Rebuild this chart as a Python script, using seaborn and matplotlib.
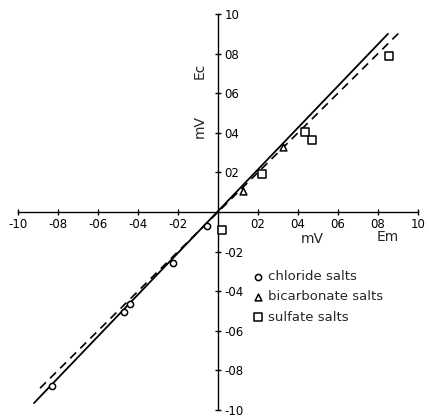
import matplotlib
matplotlib.use("Agg")
import matplotlib.pyplot as plt
import seaborn as sns
import pandas as pd

# Data (Em, Ec in mV)
chloride_em = [-0.83, -0.47, -0.44, -0.227, -0.057]
chloride_ec = [-0.877, -0.505, -0.463, -0.26, -0.073]
bicarb_em = [0.127, 0.327]
bicarb_ec = [0.107, 0.33]
sulfate_em = [0.022, 0.218, 0.435, 0.47, 0.857]
sulfate_ec = [-0.09, 0.19, 0.405, 0.363, 0.79]

fit_x = [-0.92, 0.85]
fit_y = [-0.965, 0.90]
ideal_x = [-0.89, 0.91]
ideal_y = [-0.89, 0.91]

tick_vals = [-1.0, -0.8, -0.6, -0.4, -0.2, 0.2, 0.4, 0.6, 0.8, 1.0]
tick_labels = ["-10", "-08", "-06", "-04", "-02", "02", "04", "06", "08", "10"]

sns.set_style("white")
plt.rcParams['font.family'] = ['DejaVu Sans']

fig = plt.figure(figsize=(4.29, 4.17), dpi=100)
ax = fig.add_axes([18/429, 7/417, 400/429, 396/417])

sns.lineplot(x=fit_x, y=fit_y, ax=ax, color="black", lw=1.3, linestyle="-")
sns.lineplot(x=ideal_x, y=ideal_y, ax=ax, color="black", lw=1.2, linestyle=(0, (5, 3.5)))

df = pd.concat([
    pd.DataFrame({"Em": chloride_em, "Ec": chloride_ec, "salt": "chloride salts"}),
    pd.DataFrame({"Em": bicarb_em, "Ec": bicarb_ec, "salt": "bicarbonate salts"}),
    pd.DataFrame({"Em": sulfate_em, "Ec": sulfate_ec, "salt": "sulfate salts"}),
])
markers = {"chloride salts": "o", "bicarbonate salts": "^", "sulfate salts": "s"}
sizes = {"chloride salts": 20, "bicarbonate salts": 24, "sulfate salts": 28}
for name, grp in df.groupby("salt", sort=False):
    sns.scatterplot(data=grp, x="Em", y="Ec", ax=ax, marker=markers[name],
                    s=sizes[name], facecolor="white", edgecolor="black",
                    linewidth=1.1, label=name, zorder=5)

ax.set_xlim(-1.0, 1.0)
ax.set_ylim(-1.0, 1.0)
ax.spines["top"].set_visible(False)
ax.spines["left"].set_visible(False)
ax.spines["bottom"].set_position(("data", 0))
ax.spines["right"].set_position(("data", 0))
for s in ("bottom", "right"):
    ax.spines[s].set_color("black")
    ax.spines[s].set_linewidth(1.0)
ax.yaxis.set_ticks_position("right")
ax.xaxis.set_ticks_position("bottom")
ax.set_xticks(tick_vals)
ax.set_xticklabels(tick_labels)
ax.set_yticks(tick_vals)
ax.set_yticklabels(tick_labels)
ax.tick_params(axis="both", direction="inout", length=5, width=1.0,
               labelsize=8.5, colors="black", pad=2)
ax.set_xlabel("")
ax.set_ylabel("")
ax.patch.set_alpha(0)

ax.text(0.47, -0.135, "mV", fontsize=10, ha="center", va="center")
ax.text(0.85, -0.125, "Em", fontsize=10, ha="center", va="center")
ax.text(-0.09, 0.715, "Ec", fontsize=10, ha="center", va="center", rotation=90)
ax.text(-0.09, 0.43, "mV", fontsize=10, ha="center", va="center", rotation=90)

leg = ax.legend(loc="upper left", bbox_to_anchor=(251/429, 1 - 270/417),
                bbox_transform=fig.transFigure, frameon=False, fontsize=9.5,
                borderpad=0, handlelength=1.0, handletextpad=0.3,
                labelspacing=0.55, borderaxespad=0)

fig.savefig("out.png", dpi=100)
